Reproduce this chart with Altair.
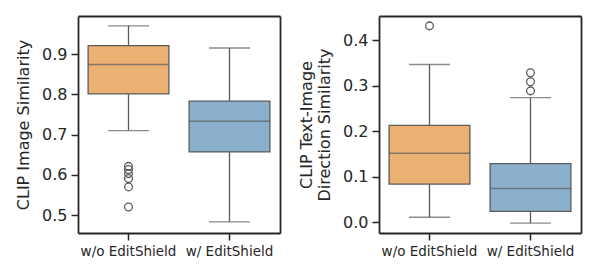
import altair as alt
import pandas as pd

groups = ["w/o EditShield", "w/ EditShield"]
colors = ["#ebb172", "#8ab0cd"]

# Panel 1: CLIP Image Similarity
img_lo = [0.710, 0.483]
img_q1 = [0.801, 0.657]
img_med = [0.874, 0.733]
img_q3 = [0.921, 0.783]
img_hi = [0.970, 0.915]
img_out_grp = ["w/o EditShield"] * 6
img_out_val = [0.621, 0.613, 0.603, 0.591, 0.570, 0.520]

# Panel 2: CLIP Text-Image Direction Similarity
dir_lo = [0.011, -0.002]
dir_q1 = [0.084, 0.024]
dir_med = [0.152, 0.074]
dir_q3 = [0.213, 0.129]
dir_hi = [0.347, 0.274]
dir_out_grp = ["w/o EditShield", "w/ EditShield", "w/ EditShield", "w/ EditShield"]
dir_out_val = [0.432, 0.329, 0.309, 0.289]

LINE = "#5b5b5b"
FRAME = "#262626"
FONT = "DejaVu Sans"
DW = 1.8


def panel(lo, q1, med, q3, hi, og, ov, domain, title, ticks):
    df = pd.DataFrame({"g": groups, "lo": lo, "q1": q1, "med": med, "q3": q3, "hi": hi})
    odf = pd.DataFrame({"g": og, "v": ov})
    xscale = alt.Scale(domain=groups, paddingInner=0, paddingOuter=0)
    yscale = alt.Scale(domain=domain, nice=False, zero=False)
    xaxis = alt.Axis(labelAngle=0, labelFontSize=13.5, labelColor="#262626",
                     tickColor=FRAME, tickSize=7, tickWidth=1.5,
                     domain=True, domainColor=FRAME, domainWidth=DW,
                     labelPadding=4, labelFont=FONT)
    yaxis = alt.Axis(values=ticks, format=".1f", labelFontSize=16, labelColor="#262626",
                     tickColor=FRAME, tickSize=7, tickWidth=1.5, grid=False,
                     domain=True, domainColor=FRAME, domainWidth=DW,
                     title=title, titleFontSize=16, titleFontWeight="normal",
                     titleColor="#262626", labelFont=FONT, titleFont=FONT, labelPadding=4,
                     titlePadding=10)
    xn = alt.X("g:N", scale=xscale, axis=None, title=None)
    base = alt.Chart(df).encode(x=xn)
    w_low = alt.Chart(df).mark_rule(color=LINE, strokeWidth=1.3).encode(
        x=alt.X("g:N", scale=xscale, axis=xaxis, title=None),
        y=alt.Y("lo:Q", scale=yscale, axis=yaxis), y2="q1:Q")
    w_high = base.mark_rule(color=LINE, strokeWidth=1.3).encode(
        y=alt.Y("q3:Q", scale=yscale, axis=None), y2="hi:Q")
    cap_lo = base.mark_tick(color=LINE, thickness=1.3, size=41, orient="horizontal").encode(
        y=alt.Y("lo:Q", scale=yscale, axis=None))
    cap_hi = base.mark_tick(color=LINE, thickness=1.3, size=41, orient="horizontal").encode(
        y=alt.Y("hi:Q", scale=yscale, axis=None))
    box = base.mark_bar(width=alt.RelativeBandSize(0.8), stroke=LINE, strokeWidth=1.3).encode(
        y=alt.Y("q1:Q", scale=yscale, axis=None), y2="q3:Q",
        color=alt.Color("g:N", scale=alt.Scale(domain=groups, range=colors), legend=None))
    medl = base.mark_tick(color=LINE, thickness=1.5, size=81, orient="horizontal").encode(
        y=alt.Y("med:Q", scale=yscale, axis=None))
    outs = alt.Chart(odf).mark_point(shape="circle", size=60, filled=False, color=LINE,
                                     strokeWidth=1.3, opacity=1).encode(
        x=alt.X("g:N", scale=xscale, axis=None, title=None),
        y=alt.Y("v:Q", scale=yscale, axis=None))
    frame = alt.Chart(df).mark_rule(opacity=0).encode(
        x=alt.X("g:N", scale=xscale, title=None,
                axis=alt.Axis(orient="top", labels=False, ticks=False, domain=True,
                              domainColor=FRAME, domainWidth=DW, title=None)),
        y=alt.Y("lo:Q", scale=yscale, title=None,
                axis=alt.Axis(orient="right", labels=False, ticks=False, grid=False,
                              domain=True, domainColor=FRAME, domainWidth=DW, title=None)))
    return alt.layer(w_low, w_high, cap_lo, cap_hi, box, medl, outs, frame).resolve_axis(
        x="independent", y="independent").properties(width=202, height=217)


p1 = panel(img_lo, img_q1, img_med, img_q3, img_hi, img_out_grp, img_out_val,
           [0.4555, 0.9945], "CLIP Image Similarity", [0.5, 0.6, 0.7, 0.8, 0.9])
p2 = panel(dir_lo, dir_q1, dir_med, dir_q3, dir_hi, dir_out_grp, dir_out_val,
           [-0.0237, 0.4537], ["CLIP Text-Image", "Direction Similarity"],
           [0.0, 0.1, 0.2, 0.3, 0.4])

chart = alt.hconcat(p1, p2, spacing=18).properties(
    padding={"left": 7, "top": 8, "right": 5, "bottom": 5}).configure(
    background="white").configure_view(strokeWidth=0)

chart.save("out.html", embed_options={"renderer": "svg", "actions": False})
